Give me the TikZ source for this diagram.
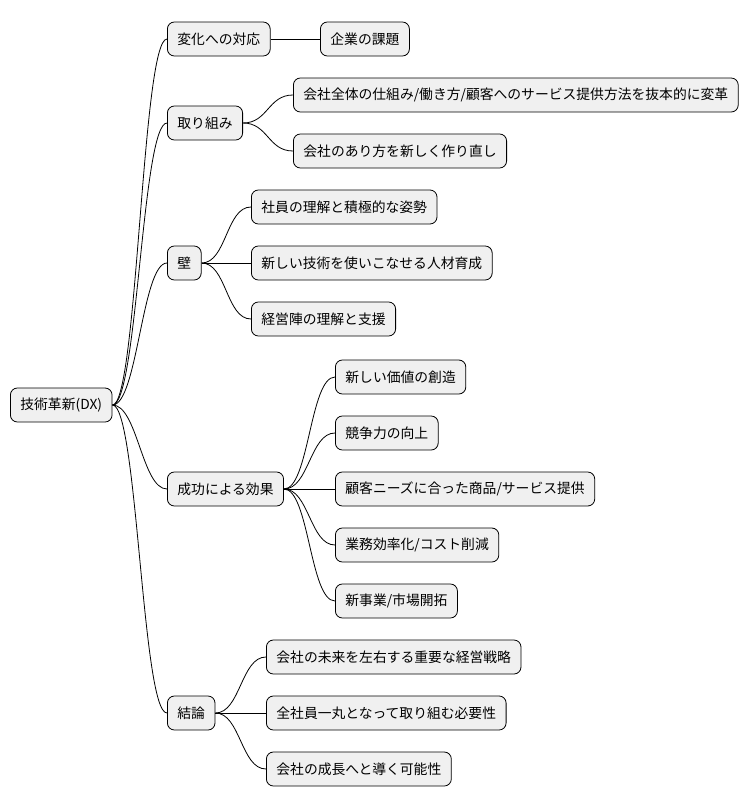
\documentclass[tikz,border=0pt]{standalone}
\usepackage{fontspec}
\setmainfont{Noto Sans CJK JP}
\begin{document}
\begin{tikzpicture}[x=1pt,y=-1pt,
  box/.style={draw=black,line width=0.8pt,fill=black!6,rounded corners=7pt,minimum height=34pt,inner xsep=10pt,anchor=west,font=\fontsize{13.8pt}{15pt}\selectfont},
  link/.style={line width=0.8pt}]
\useasboundingbox (0,0) rectangle (753,809);
\node[box] (r) at (10,405) {技術革新(DX)};
\node[box] (a) at (167,39) {変化への対応};
\node[box] (a1) at (320,39) {企業の課題};
\node[box] (b) at (167,123) {取り組み};
\node[box] (b1) at (293,95) {会社全体の仕組み/働き方/顧客へのサービス提供方法を抜本的に変革};
\node[box] (b2) at (293,151) {会社のあり方を新しく作り直し};
\node[box] (c) at (167,263) {壁};
\node[box] (c1) at (251,207) {社員の理解と積極的な姿勢};
\node[box] (c2) at (251,263) {新しい技術を使いこなせる人材育成};
\node[box] (c3) at (251,319) {経営陣の理解と支援};
\node[box] (d) at (167,489) {成功による効果};
\node[box] (d1) at (335,377) {新しい価値の創造};
\node[box] (d2) at (335,433) {競争力の向上};
\node[box] (d3) at (335,489) {顧客ニーズに合った商品/サービス提供};
\node[box] (d4) at (335,545) {業務効率化/コスト削減};
\node[box] (d5) at (335,601) {新事業/市場開拓};
\node[box] (e) at (167,713) {結論};
\node[box] (e1) at (266,657) {会社の未来を左右する重要な経営戦略};
\node[box] (e2) at (266,713) {全社員一丸となって取り組む必要性};
\node[box] (e3) at (266,769) {会社の成長へと導く可能性};
\foreach \p/\c in {r/a,r/b,r/c,r/d,r/e,a/a1,b/b1,b/b2,c/c1,c/c2,c/c3,d/d1,d/d2,d/d3,d/d4,d/d5,e/e1,e/e2,e/e3}
  \draw[link] (\p.east) .. controls +(25,0) and +(-25,0) .. (\c.west);
\end{tikzpicture}
\end{document}
